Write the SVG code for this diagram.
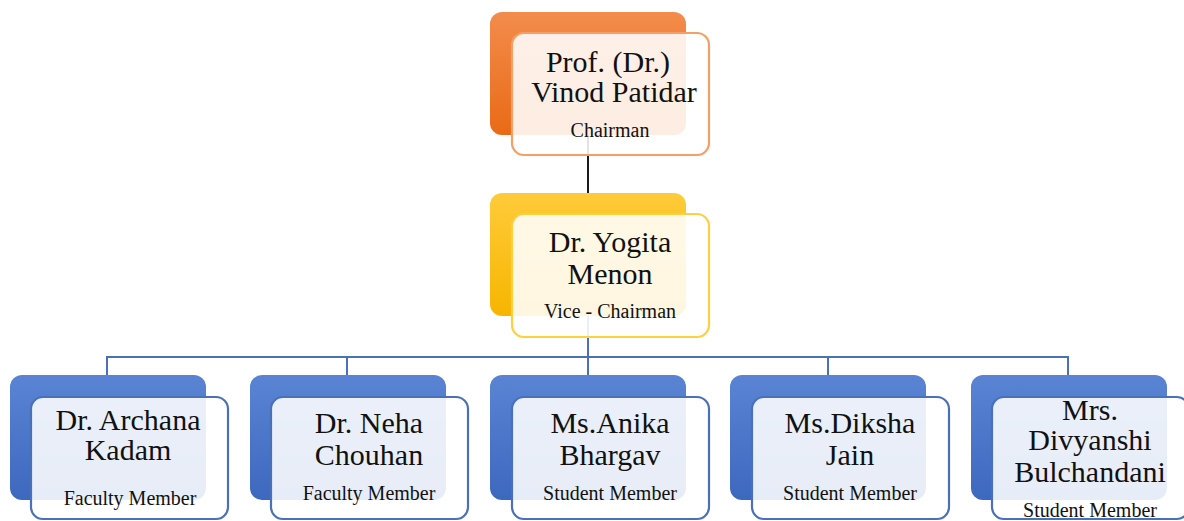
<svg xmlns="http://www.w3.org/2000/svg" width="1184" height="521" viewBox="0 0 1184 521">
<defs>
<linearGradient id="gBlue" x1="0" y1="0" x2="0" y2="1"><stop offset="0" stop-color="#5A84D3"/><stop offset="1" stop-color="#3D68BF"/></linearGradient>
<linearGradient id="gOrange" x1="0" y1="0" x2="0" y2="1"><stop offset="0" stop-color="#F38C4C"/><stop offset="1" stop-color="#E96A16"/></linearGradient>
<linearGradient id="gYellow" x1="0" y1="0" x2="0" y2="1"><stop offset="0" stop-color="#FFCB3A"/><stop offset="1" stop-color="#F7B500"/></linearGradient>
</defs>
<style>
.back{stroke:none}
.front{fill:#FFFFFF;fill-opacity:0.88;stroke-width:2.2}
.fb{stroke:#4A70B8}
.fo{stroke:#F2A066}
.fy{stroke:#FFCF3F}
.name{font-family:"Liberation Serif","Times New Roman",serif;font-size:30px;fill:#111;text-anchor:middle}
.role{font-family:"Liberation Serif","Times New Roman",serif;font-size:20px;fill:#111;text-anchor:middle}
.conn{fill:none;stroke-width:2}
</style>
<rect width="1184" height="521" fill="#FFFFFF"/>
<g id="connectors">
<line class="conn" x1="588" y1="120" x2="588" y2="200" stroke="#1A1A1A"/>
<line class="conn" x1="588" y1="300" x2="588" y2="357" stroke="#4A70B8"/>
<polyline class="conn" points="107,380 107,357 1068,357 1068,380" stroke="#4A70B8"/>
<line class="conn" x1="347" y1="357" x2="347" y2="380" stroke="#4A70B8"/>
<line class="conn" x1="588" y1="357" x2="588" y2="380" stroke="#4A70B8"/>
<line class="conn" x1="828" y1="357" x2="828" y2="380" stroke="#4A70B8"/>
</g>
<g id="chairman">
<rect class="back" x="490" y="12" width="196" height="123" rx="12" fill="url(#gOrange)"/>
<rect class="front fo" x="512" y="33" width="197" height="122" rx="12"/>
<text class="name" x="608" y="72">Prof. (Dr.)</text>
<text class="name" x="614" y="102">Vinod Patidar</text>
<text class="role" x="610" y="137">Chairman</text>
</g>
<g id="vice-chairman">
<rect class="back" x="490" y="193" width="196" height="123" rx="12" fill="url(#gYellow)"/>
<rect class="front fy" x="512" y="214" width="197" height="123" rx="12"/>
<text class="name" x="610" y="252">Dr. Yogita</text>
<text class="name" x="610" y="284">Menon</text>
<text class="role" x="610" y="318">Vice - Chairman</text>
</g>
<g id="member1">
<rect class="back" x="10" y="375" width="196" height="125" rx="12" fill="url(#gBlue)"/>
<rect class="front fb" x="31" y="397" width="197" height="122" rx="12"/>
<text class="name" x="128" y="430">Dr. Archana</text>
<text class="name" x="128" y="460">Kadam</text>
<text class="role" x="130" y="505">Faculty Member</text>
</g>
<g id="member2">
<rect class="back" x="250" y="375" width="196" height="125" rx="12" fill="url(#gBlue)"/>
<rect class="front fb" x="271" y="397" width="197" height="122" rx="12"/>
<text class="name" x="369" y="433">Dr. Neha</text>
<text class="name" x="369" y="465">Chouhan</text>
<text class="role" x="369" y="500">Faculty Member</text>
</g>
<g id="member3">
<rect class="back" x="490" y="375" width="196" height="125" rx="12" fill="url(#gBlue)"/>
<rect class="front fb" x="512" y="397" width="197" height="122" rx="12"/>
<text class="name" x="610" y="433">Ms.Anika</text>
<text class="name" x="610" y="465">Bhargav</text>
<text class="role" x="610" y="500">Student Member</text>
</g>
<g id="member4">
<rect class="back" x="730" y="375" width="196" height="125" rx="12" fill="url(#gBlue)"/>
<rect class="front fb" x="752" y="397" width="197" height="122" rx="12"/>
<text class="name" x="850" y="433">Ms.Diksha</text>
<text class="name" x="850" y="465">Jain</text>
<text class="role" x="850" y="500">Student Member</text>
</g>
<g id="member5">
<rect class="back" x="971" y="375" width="196" height="125" rx="12" fill="url(#gBlue)"/>
<rect class="front fb" x="992" y="397" width="197" height="122" rx="12"/>
<text class="name" x="1090" y="420">Mrs.</text>
<text class="name" x="1090" y="450">Divyanshi</text>
<text class="name" x="1090" y="482">Bulchandani</text>
<text class="role" x="1090" y="517">Student Member</text>
</g>
</svg>
